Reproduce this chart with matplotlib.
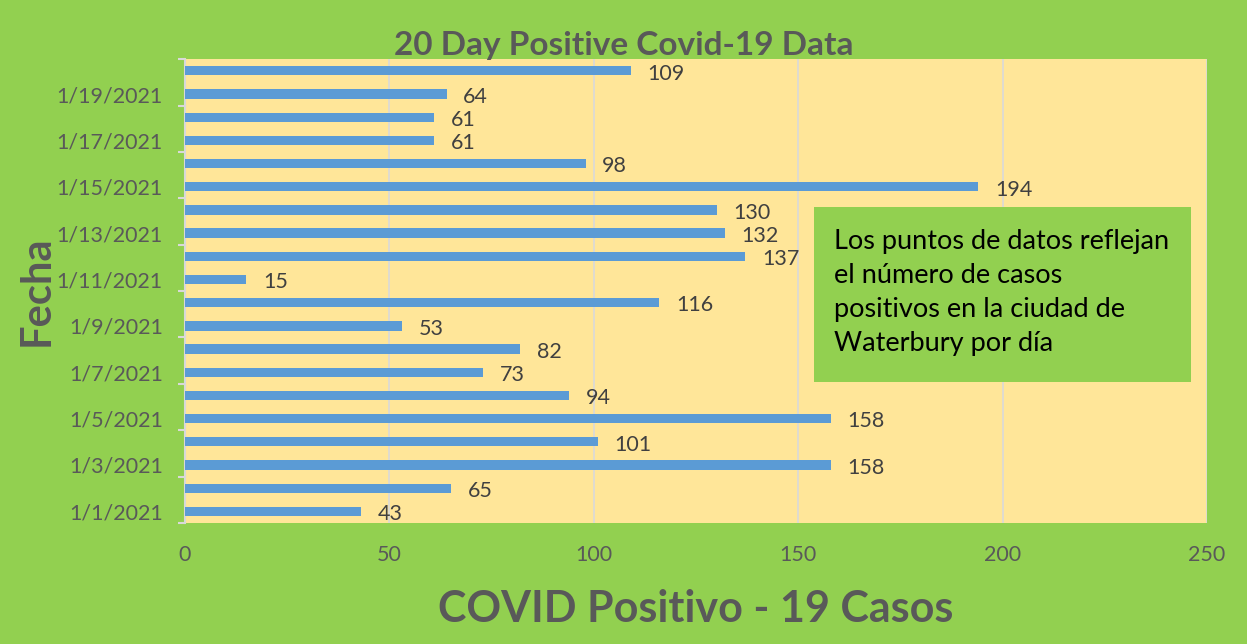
import matplotlib
matplotlib.use("Agg")
from matplotlib import pyplot as plt
import numpy as np

# data, bottom to top (1/1/2021 ... 1/20/2021)
dates = ["1/%d/2021" % d for d in range(1, 21)]
cases = [43, 65, 158, 101, 158, 94, 73, 82, 53, 116,
         15, 137, 132, 130, 194, 98, 61, 61, 64, 109]
xticks = [0, 50, 100, 150, 200, 250]

green = "#92D050"
yellow = "#FFE699"
bar_col = "#5B9BD5"
grey_txt = "#595959"

plt.rcParams['font.family'] = ['Lato', 'DejaVu Sans']

fig = plt.figure(figsize=(12.47, 6.44), dpi=100)
fig.patch.set_facecolor(green)
ax = fig.add_axes([0.1484, 0.188, 0.8196, 0.72])
ax.set_facecolor(yellow)

y = np.arange(len(dates))
ax.barh(y, cases, height=0.4, color=bar_col, zorder=3)

# data labels
for yi, v in zip(y, cases):
    ax.annotate(str(v), (v, yi), xytext=(12, -2), textcoords="offset points",
                va="center", ha="left", fontsize=15.5, color="#404040", zorder=4)

ax.set_xlim(0, 250)
ax.set_ylim(-0.5, len(dates) - 0.5)
ax.set_xticks(xticks)
ax.set_yticks(y[::2])
ax.set_yticklabels(dates[::2])
ax.set_yticks(np.arange(-0.5, len(dates), 2), minor=True)
ax.tick_params(axis="y", which="major", length=0, labelsize=15.5,
               labelcolor=grey_txt, pad=16)
ax.tick_params(axis="y", which="minor", length=5, color="#D9D9D9", width=1.5)
ax.tick_params(axis="x", length=0, labelsize=15.5, labelcolor=grey_txt, pad=16)

ax.grid(axis="x", color="#D9D9D9", linewidth=1.2, zorder=0)
for s in ["top", "bottom", "right"]:
    ax.spines[s].set_visible(False)
ax.spines["left"].set_color("#D9D9D9")
ax.spines["left"].set_linewidth(1.5)

fig.text(0.5, 1 - 45 / 644, "20 Day Positive Covid-19 Data", ha="center",
         va="center", fontsize=24, fontweight="bold", color=grey_txt)
ax.set_xlabel("COVID Positivo - 19 Casos", fontsize=31, fontweight="bold",
              color=grey_txt, labelpad=17)
ax.set_ylabel("Fecha", fontsize=30, fontweight="bold", color=grey_txt,
              labelpad=1)

# annotation box
fig.patches.append(plt.Rectangle((814 / 1247, 1 - 382 / 644), 377 / 1247,
                                 175 / 644, transform=fig.transFigure,
                                 facecolor=green, edgecolor="none", zorder=5))
fig.text(834 / 1247, 1 - 292 / 644,
         "Los puntos de datos reflejan\nel número de casos\npositivos en la ciudad de\nWaterbury por día",
         ha="left", va="center", fontsize=19.5, color="black", linespacing=1.45,
         zorder=6)

fig.savefig("out.png", dpi=100, facecolor=green)
